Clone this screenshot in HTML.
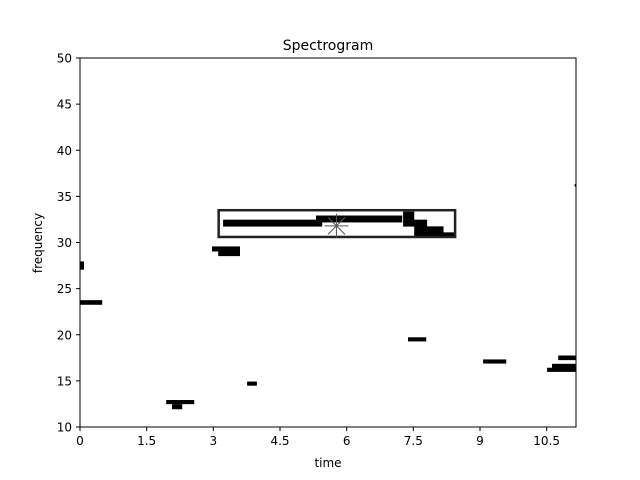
<!DOCTYPE html>
<html><head><meta charset="utf-8"><style>
body{margin:0;background:#fff}
svg{display:block;font-family:"DejaVu Sans","Liberation Sans",sans-serif}
</style></head><body>
<svg id="chart" width="640" height="480" viewBox="0 0 640 480">
<rect width="640" height="480" fill="#fff"/>
<text x="328" y="50" font-size="14" text-anchor="middle">Spectrogram</text>
<g id="marks"></g>
<rect x="80" y="58" width="496" height="369" fill="none" stroke="#000" stroke-width="1"/>
<g id="axes"></g>
<text x="328" y="467" font-size="12" text-anchor="middle">time</text>
<text transform="translate(42,243) rotate(-90)" font-size="12" text-anchor="middle">frequency</text>
</svg>
<script>
const xTicks=[0,1.5,3,4.5,6,7.5,9,10.5];
const xTickLabels=["0","1.5","3","4.5","6","7.5","9","10.5"];
const yTicks=[10,15,20,25,30,35,40,45,50];
const segStart=[3.22,5.31,7.27,7.27,7.52,7.52,2.97,3.11,0,0,1.94,2.07,3.76,7.38,9.07,10.76,10.62,10.51,11.13];
const segEnd=[5.45,7.25,7.52,7.81,8.18,8.44,3.6,3.6,0.09,0.5,2.57,2.3,3.98,7.79,9.59,11.16,11.16,11.16,11.16];
const segFreq=[32.1,32.55,32.9,32.1,31.3,30.8,29.3,28.8,27.5,23.5,12.7,12.2,14.7,19.5,17.1,17.5,16.6,16.2,36.2];
const segHeight=[0.75,0.75,0.9,0.75,0.9,0.6,0.55,0.55,0.9,0.5,0.45,0.55,0.45,0.45,0.45,0.5,0.5,0.45,0.3];
const boxT=[3.12,8.44], boxF=[30.6,33.5], peakT=5.77, peakF=31.8;
const X0=80,PW=496,XMAX=11.16,Y0=427,PH=369,YMIN=10,YMAX=50;
const sx=t=>X0+t/XMAX*PW, sy=f=>Y0-(f-YMIN)/(YMAX-YMIN)*PH;
const NS="http://www.w3.org/2000/svg";
const marks=document.getElementById('marks'), axes=document.getElementById('axes');
function mk(tag,attrs,parent){const e=document.createElementNS(NS,tag);for(const k in attrs)e.setAttribute(k,attrs[k]);parent.appendChild(e);return e;}
segStart.forEach((s,i)=>{
  const r=mk('rect',{x:sx(s),y:sy(segFreq[i]+segHeight[i]/2),width:sx(segEnd[i])-sx(s),height:sy(segFreq[i]-segHeight[i]/2)-sy(segFreq[i]+segHeight[i]/2),fill:'#000'},marks);
  
  
});
const b=mk('rect',{x:sx(boxT[0]),y:sy(boxF[1]),width:sx(boxT[1])-sx(boxT[0]),height:sy(boxF[0])-sy(boxF[1]),fill:'none',stroke:'#222',"stroke-width":2.5},marks);


const px=sx(peakT),py=sy(peakF);
const star=mk('g',{stroke:'#555',"stroke-width":1},marks);


for(let a=0;a<4;a++){const ang=a*Math.PI/4;mk('line',{x1:px-12*Math.cos(ang),y1:py-12*Math.sin(ang),x2:px+12*Math.cos(ang),y2:py+12*Math.sin(ang)},star);}
xTicks.forEach((t,i)=>{
  const x=sx(t);
  const l=mk('line',{x1:x,y1:427,x2:x,y2:431,stroke:'#000'},axes);
  
  
  const tx=mk('text',{x:x,y:445,"font-size":12,"text-anchor":"middle"},axes);tx.textContent=xTickLabels[i];
  
  
});
yTicks.forEach(v=>{
  const y=sy(v);
  const l=mk('line',{x1:76,y1:y,x2:80,y2:y,stroke:'#000'},axes);
  
  
  const tx=mk('text',{x:72,y:y+4.5,"font-size":12,"text-anchor":"end"},axes);tx.textContent=v;
  
  
});
</script>
</body></html>
